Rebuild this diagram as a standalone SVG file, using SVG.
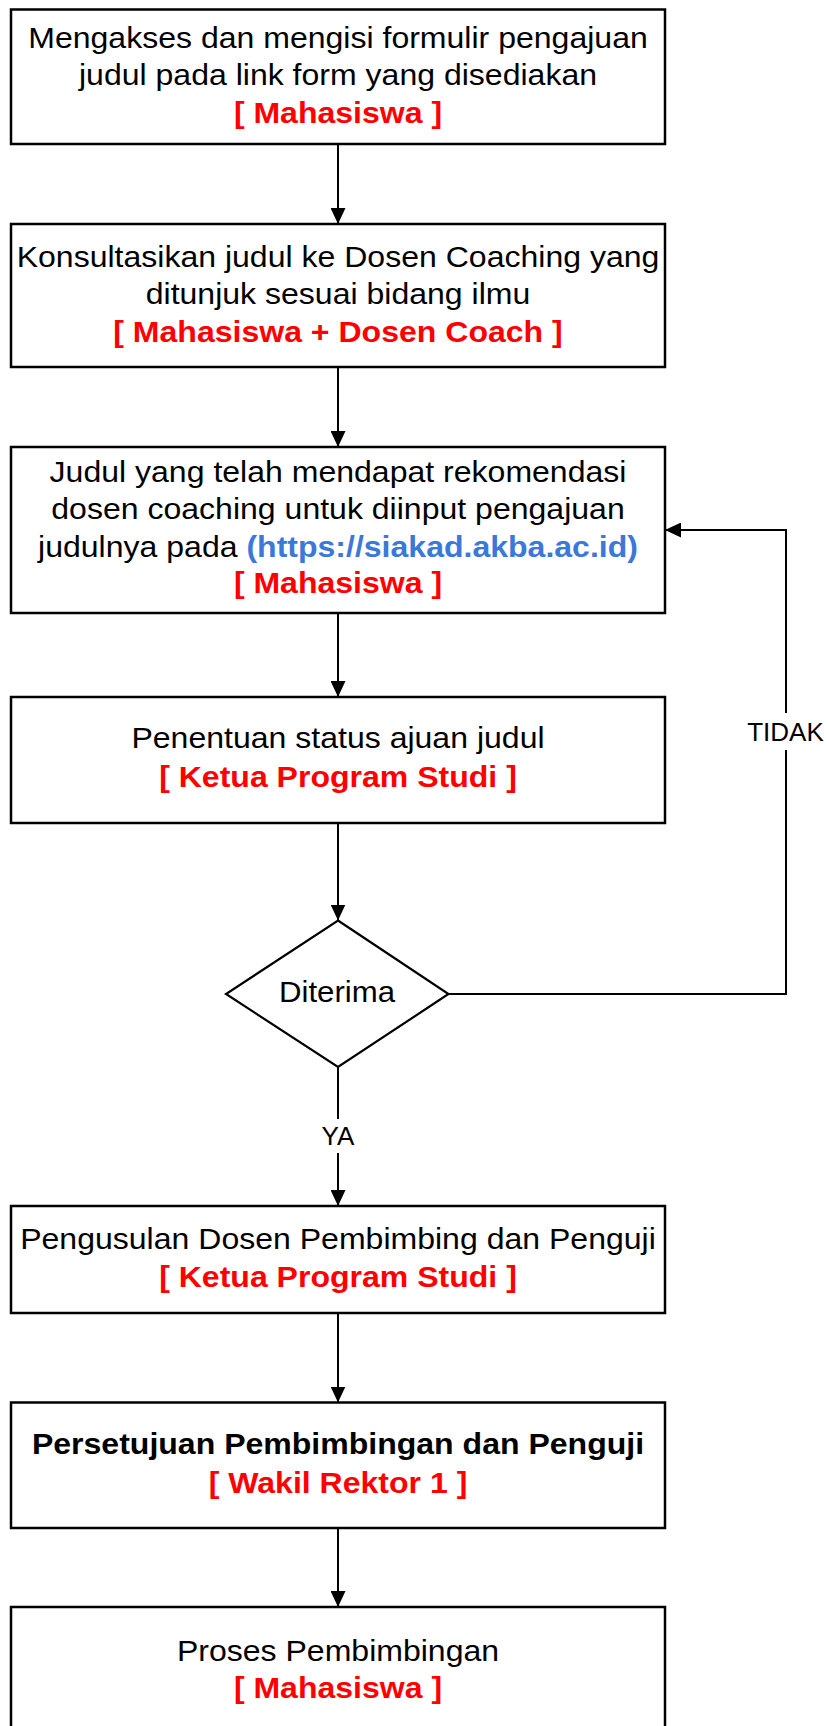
<svg xmlns="http://www.w3.org/2000/svg" width="829" height="1726" viewBox="0 0 829 1726">
<defs>
<marker id="arr" markerWidth="16" markerHeight="15" refX="16" refY="7.5" orient="auto" markerUnits="userSpaceOnUse"><path d="M0,0 L16,7.5 L0,15 z" fill="#000"/></marker>
<style>
.box{fill:#fff;stroke:#000;stroke-width:2.5}
.t{font-family:"Liberation Sans",Arial,sans-serif;font-size:28.6px;fill:#000;text-anchor:middle}
.r{fill:#ff0000;font-weight:bold}
.b{font-weight:bold}
.link{fill:#3c78d8;font-weight:bold}
.c{fill:none;stroke:#000;stroke-width:2}
.lbl{font-family:"Liberation Sans",Arial,sans-serif;font-size:26px;fill:#000;text-anchor:middle}
</style>
</defs>
<rect width="829" height="1726" fill="#fff"/>
<g id="connectors">
<path class="c" d="M338,144 V224" marker-end="url(#arr)"/>
<path class="c" d="M338,367 V447" marker-end="url(#arr)"/>
<path class="c" d="M338,613 V697" marker-end="url(#arr)"/>
<path class="c" d="M338,823 V920.5" marker-end="url(#arr)"/>
<path class="c" d="M338,1067 V1119"/>
<path class="c" d="M338,1153 V1206" marker-end="url(#arr)"/>
<path class="c" d="M338,1313 V1402.5" marker-end="url(#arr)"/>
<path class="c" d="M338,1528 V1607" marker-end="url(#arr)"/>
<path class="c" d="M448.5,994 H786 V750"/>
<path class="c" d="M786,713 V530 H665" marker-end="url(#arr)"/>
<text class="lbl" x="785.5" y="741">TIDAK</text>
<text class="lbl" x="338" y="1145">YA</text>
</g>
<g id="n1">
<rect class="box" x="11" y="9.5" width="654" height="134.5"/>
<text class="t" transform="translate(338,0) scale(1.12,1)"><tspan x="0" y="47.7">Mengakses dan mengisi formulir pengajuan</tspan><tspan x="0" y="85.3">judul pada link form yang disediakan</tspan><tspan x="0" y="123.3" class="r">[ Mahasiswa ]</tspan></text>
</g>
<g id="n2">
<rect class="box" x="11" y="224" width="654" height="143"/>
<text class="t" transform="translate(338,0) scale(1.12,1)"><tspan x="0" y="266.7">Konsultasikan judul ke Dosen Coaching yang</tspan><tspan x="0" y="304">ditunjuk sesuai bidang ilmu</tspan><tspan x="0" y="341.7" class="r">[ Mahasiswa + Dosen Coach ]</tspan></text>
</g>
<g id="n3">
<rect class="box" x="11" y="447" width="654" height="166"/>
<text class="t" transform="translate(338,0) scale(1.12,1)"><tspan x="0" y="481.7">Judul yang telah mendapat rekomendasi</tspan><tspan x="0" y="519.3">dosen coaching untuk diinput pengajuan</tspan><tspan x="0" y="556.7">judulnya pada <tspan class="link">(https://siakad.akba.ac.id)</tspan></tspan><tspan x="0" y="593.5" class="r">[ Mahasiswa ]</tspan></text>
</g>
<g id="n4">
<rect class="box" x="11" y="697" width="654" height="126"/>
<text class="t" transform="translate(338,0) scale(1.12,1)"><tspan x="0" y="748.3">Penentuan status ajuan judul</tspan><tspan x="0" y="786.7" class="r">[ Ketua Program Studi ]</tspan></text>
</g>
<g id="n5">
<polygon class="box" points="338,920.5 448.5,994 338,1067 226,994" style="stroke-width:2.2"/>
<text class="t" transform="translate(337,0) scale(1.09,1)"><tspan x="0" y="1002">Diterima</tspan></text>
</g>
<g id="n6">
<rect class="box" x="11" y="1206" width="654" height="107"/>
<text class="t" transform="translate(338,0) scale(1.12,1)"><tspan x="0" y="1249.3">Pengusulan Dosen Pembimbing dan Penguji</tspan><tspan x="0" y="1286.7" class="r">[ Ketua Program Studi ]</tspan></text>
</g>
<g id="n7">
<rect class="box" x="11" y="1402.5" width="654" height="125.5"/>
<text class="t" transform="translate(338,0) scale(1.12,1)"><tspan x="0" y="1453.7" class="b">Persetujuan Pembimbingan dan Penguji</tspan><tspan x="0" y="1492.7" class="r">[ Wakil Rektor 1 ]</tspan></text>
</g>
<g id="n8">
<rect class="box" x="11" y="1607" width="654" height="140"/>
<text class="t" transform="translate(338,0) scale(1.12,1)"><tspan x="0" y="1661">Proses Pembimbingan</tspan><tspan x="0" y="1698.3" class="r">[ Mahasiswa ]</tspan></text>
</g>
</svg>
